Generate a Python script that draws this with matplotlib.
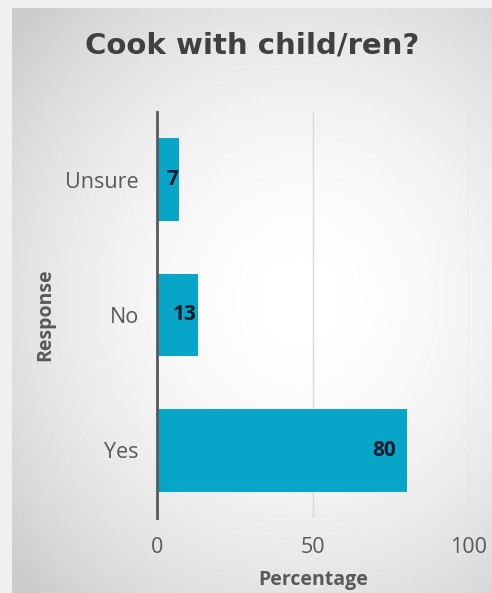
import numpy as np
import matplotlib.pyplot as plt

categories = ['Yes', 'No', 'Unsure']
values = [80, 13, 7]
xticks = [0, 50, 100]

fig = plt.figure(figsize=(4.92, 5.93), dpi=100)
fig.patch.set_facecolor('#f0f0f0')

# radial gradient panel behind the chart
bg = fig.add_axes([12/492, 0, 1 - 12/492, 1 - 8/593], zorder=0)
yy, xx = np.mgrid[0:1:300j, 0:1:300j]
r = np.sqrt(((xx - 0.6) / 0.9) ** 2 + ((yy - 0.5) / 0.8) ** 2)
shade = np.clip(1.0 - 0.25 * r ** 1.8, 0.8, 1.0)
bg.imshow(shade, cmap='gray', vmin=0, vmax=1, aspect='auto', extent=[0, 1, 0, 1])
bg.axis('off')

ax = fig.add_axes([157/492, 75/593, 312/492, 406/593], zorder=1)
ax.patch.set_alpha(0)

y = np.arange(len(categories))
ax.barh(y, values, height=0.61, color='#07a6c9', zorder=2)
for yi, v in zip(y, values):
    xpos = v - 3.5 if v > 20 else v - 0.3
    ax.text(xpos, yi, str(v), ha='right', va='center', fontsize=15,
            fontweight='bold', color='#0d1a2b', family='Open Sans', zorder=3)

ax.set_xlim(0, 100)
ax.set_ylim(-0.5, 2.5)
ax.set_xticks(xticks)
ax.set_yticks(y)
ax.set_yticklabels(categories)
ax.xaxis.grid(True, color='#d9d9d9', lw=1, zorder=0)
ax.tick_params(length=0, labelsize=15.5, labelcolor='#595959')
ax.tick_params(axis='x', pad=14)
ax.tick_params(axis='y', pad=13)
for lab in ax.get_xticklabels() + ax.get_yticklabels():
    lab.set_family('Open Sans')
for s in ['top', 'right', 'bottom']:
    ax.spines[s].set_visible(False)
ax.spines['left'].set_color('#595959')
ax.spines['left'].set_linewidth(2)
ax.spines['left'].set_zorder(4)

ax.set_xlabel('Percentage', fontsize=14, fontweight='bold', color='#595959',
              family='Open Sans', labelpad=8)
ax.set_ylabel('Response', fontsize=14, fontweight='bold', color='#595959',
              family='Open Sans', labelpad=7)

fig.text(0.512, 0.924, 'Cook with child/ren?', ha='center', va='center',
         fontsize=21, fontweight='bold', color='#404040')

fig.savefig('out.png', dpi=100, facecolor=fig.get_facecolor())
